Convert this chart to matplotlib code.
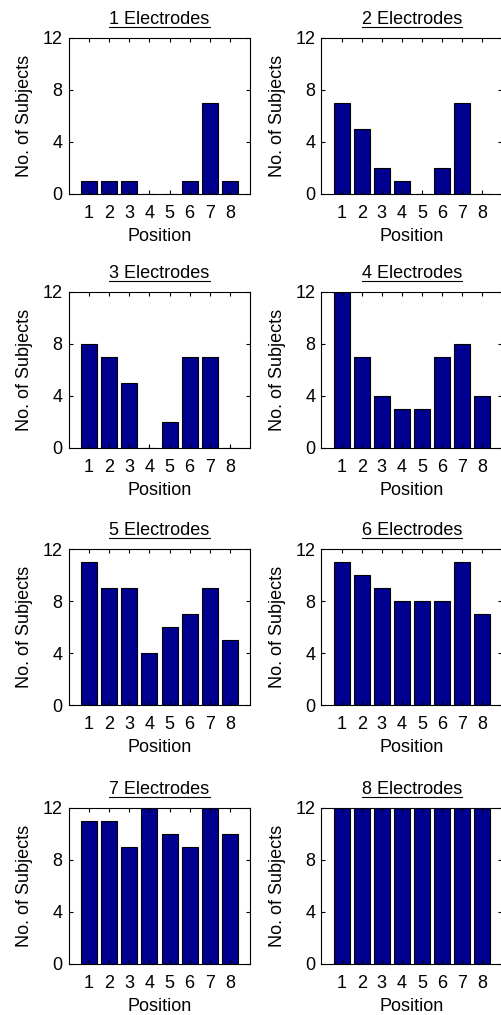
import matplotlib
matplotlib.use('Agg')
import matplotlib.pyplot as plt
from matplotlib.lines import Line2D

# numero de sujetos por posicion para cada configuracion de electrodos
posiciones = [1, 2, 3, 4, 5, 6, 7, 8]
titulos = ['1 Electrodes', '2 Electrodes', '3 Electrodes', '4 Electrodes',
           '5 Electrodes', '6 Electrodes', '7 Electrodes', '8 Electrodes']
e1 = [1, 1, 1, 0, 0, 1, 7, 1]
e2 = [7, 5, 2, 1, 0, 2, 7, 0]
e3 = [8, 7, 5, 0, 2, 7, 7, 0]
e4 = [12, 7, 4, 3, 3, 7, 8, 4]
e5 = [11, 9, 9, 4, 6, 7, 9, 5]
e6 = [11, 10, 9, 8, 8, 8, 11, 7]
e7 = [11, 11, 9, 12, 10, 9, 12, 10]
e8 = [12, 12, 12, 12, 12, 12, 12, 12]
yticks = [0, 4, 8, 12]

datos = [e1, e2, e3, e4, e5, e6, e7, e8]

plt.rcParams['font.family'] = ['Liberation Sans', 'DejaVu Sans']
FS = 13

W, H = 502, 1015
fig = plt.figure(figsize=(W / 100, H / 100), dpi=100)

# posiciones de los ejes en pixeles (izq, arriba, ancho, alto)
lefts = [69, 321.5]
tops = [38, 292, 549, 808]
ancho = 181
alto = 156

ejes = []
for i, (vals, titulo) in enumerate(zip(datos, titulos)):
    fila, col = divmod(i, 2)
    x0 = lefts[col] / W
    y0 = 1 - (tops[fila] + alto) / H
    ax = fig.add_axes([x0, y0, ancho / W, alto / H])
    ax.bar(posiciones, vals, width=0.8, color='#000090', edgecolor='black', linewidth=0.8)
    ax.set_xlim(0, 9)
    ax.set_ylim(0, 12)
    ax.set_xticks(posiciones)
    ax.set_yticks(yticks)
    ax.tick_params(direction='in', length=3, width=0.8, top=True, right=True,
                   labelsize=FS)
    ax.tick_params(axis='x', pad=8)
    ax.tick_params(axis='y', pad=4.5)
    for s in ax.spines.values():
        s.set_linewidth(0.8)
    ax.set_xlabel('Position', fontsize=FS, labelpad=4)
    ax.set_ylabel('No. of Subjects', fontsize=FS, labelpad=7)
    t = ax.set_title(titulo, fontsize=FS, pad=10)
    ejes.append((ax, t))

# subrayar los titulos
fig.canvas.draw()
r = fig.canvas.get_renderer()
for ax, t in ejes:
    bb = t.get_window_extent(renderer=r)
    y = bb.y0 + 1
    fig.add_artist(Line2D([bb.x0 / W, bb.x1 / W], [y / H, y / H],
                          transform=fig.transFigure, color='black', linewidth=0.8))

fig.savefig('out.png', dpi=100)
